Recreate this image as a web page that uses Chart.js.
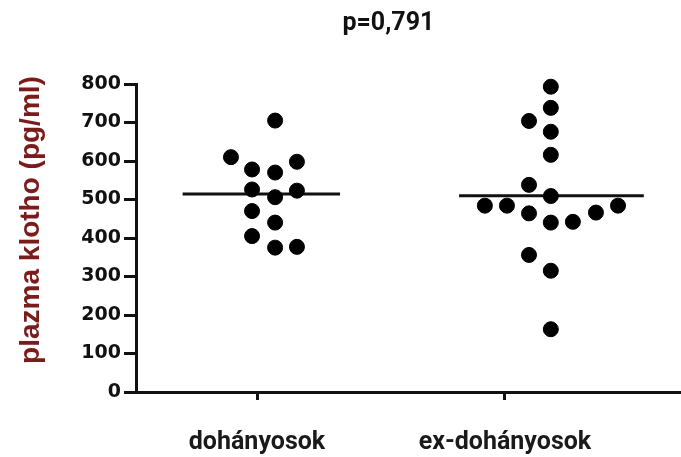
<!DOCTYPE html>
<html>
<head>
<meta charset="utf-8">
<script src="https://cdn.jsdelivr.net/npm/chart.js@4.4.1/dist/chart.umd.min.js"></script>
<style>
  html, body { margin: 0; padding: 0; background: #fff; }
  #wrap { width: 681px; height: 457px; }
</style>
</head>
<body>
<div id="wrap"><canvas id="grafico"></canvas></div>
<script>
// Categorías y valores
var categorias = ["dohányosok", "ex-dohányosok"];
var titulo = "p=0,791";
var tituloEjeY = "plazma klotho (pg/ml)";

// dohányosok: posición horizontal (categoría + desplazamiento) y valor
var fumadoresX = [1.073, 0.895, 1.161, 0.980, 1.073, 0.980, 1.161, 1.073, 0.980, 1.073, 0.980, 1.073, 1.161];
var fumadoresY = [705, 610, 598, 578, 570, 526, 523, 506, 470, 440, 405, 375, 377];

// ex-dohányosok
var exFumadoresX = [2.185, 2.185, 2.097, 2.185, 2.185, 2.097, 2.185, 1.919, 2.008, 2.097, 2.185, 2.274, 2.367, 2.456, 2.097, 2.185, 2.185];
var exFumadoresY = [793, 738, 704, 676, 616, 538, 509, 484, 484, 464, 440, 442, 466, 484, 356, 315, 163];

// medianas y su extensión horizontal
var medianas = [514, 510];
var medianasX = [[0.70, 1.335], [1.815, 2.56]];

function puntos(xs, ys) {
    return xs.map(function (x, i) { return { x: x, y: ys[i] }; });
}

function linea(i) {
    return medianasX[i].map(function (x) { return { x: x, y: medianas[i] }; });
}

// Título superior y título del eje Y dibujados a mano
var pluginTextos = {
    id: "textos",
    afterDraw: function (chart) {
        var ctx = chart.ctx;
        var area = chart.chartArea;
        ctx.save();
        ctx.font = "bold 25px Roboto";
        ctx.fillStyle = "#111";
        ctx.textAlign = "center";
        ctx.textBaseline = "middle";
        ctx.fillText(titulo, chart.scales.x.getPixelForValue(1.53), 24);

        ctx.translate(31, area.top + 136);
        ctx.rotate(-Math.PI / 2);
        ctx.font = "bold 28px 'Liberation Sans'";
        ctx.fillStyle = "#7a1c1c";
        ctx.fillText(tituloEjeY, 0, 0);
        ctx.restore();
    }
};

function cargaGrafico() {
    var datos = {
        datasets: [{
            type: "scatter",
            data: puntos(fumadoresX, fumadoresY),
            backgroundColor: "#000",
            borderColor: "#000",
            pointRadius: 7.5,
            pointHoverRadius: 7.5,
            clip: false
        }, {
            type: "scatter",
            data: puntos(exFumadoresX, exFumadoresY),
            backgroundColor: "#000",
            borderColor: "#000",
            pointRadius: 7.5,
            pointHoverRadius: 7.5,
            clip: false
        }, {
            type: "line",
            data: linea(0),
            borderColor: "#111",
            borderWidth: 3,
            pointRadius: 0
        }, {
            type: "line",
            data: linea(1),
            borderColor: "#111",
            borderWidth: 3,
            pointRadius: 0
        }]
    };

    var config = {
        type: "scatter",
        data: datos,
        plugins: [pluginTextos],
        options: {
            responsive: true,
            maintainAspectRatio: false,
            animation: false,
            layout: {
                autoPadding: false,
                padding: { top: 84, right: 0, bottom: 0, left: 0 }
            },
            plugins: {
                legend: { display: false },
                tooltip: { enabled: false }
            },
            scales: {
                x: {
                    type: "linear",
                    min: 0.512,
                    max: 2.71,
                    afterBuildTicks: function (scale) {
                        scale.ticks = [{ value: 1 }, { value: 2 }];
                    },
                    afterFit: function (scale) {
                        scale.height = 65;
                        scale.paddingLeft = 0;
                        scale.paddingRight = 0;
                    },
                    ticks: {
                        callback: function (v) { return categorias[v - 1]; },
                        color: "#1a1a1a",
                        font: { family: "Roboto", size: 25, weight: "bold" },
                        padding: 28,
                        maxRotation: 0,
                        autoSkip: false
                    },
                    grid: {
                        drawOnChartArea: false,
                        drawTicks: true,
                        tickLength: 8,
                        tickWidth: 3,
                        tickColor: "#111"
                    },
                    border: { color: "#111", width: 3 }
                },
                y: {
                    min: 0,
                    max: 800,
                    afterFit: function (scale) {
                        scale.width = 136;
                    },
                    ticks: {
                        stepSize: 100,
                        color: "#111",
                        font: { family: "DejaVu Sans", size: 19, weight: "bold" },
                        padding: 3
                    },
                    grid: {
                        drawOnChartArea: false,
                        drawTicks: true,
                        tickLength: 12,
                        tickWidth: 3,
                        tickColor: "#111"
                    },
                    border: { color: "#111", width: 3 }
                }
            }
        }
    };

    var grafico = document.getElementById("grafico").getContext("2d");
    new Chart(grafico, config);
}

cargaGrafico();
</script>
</body>
</html>
